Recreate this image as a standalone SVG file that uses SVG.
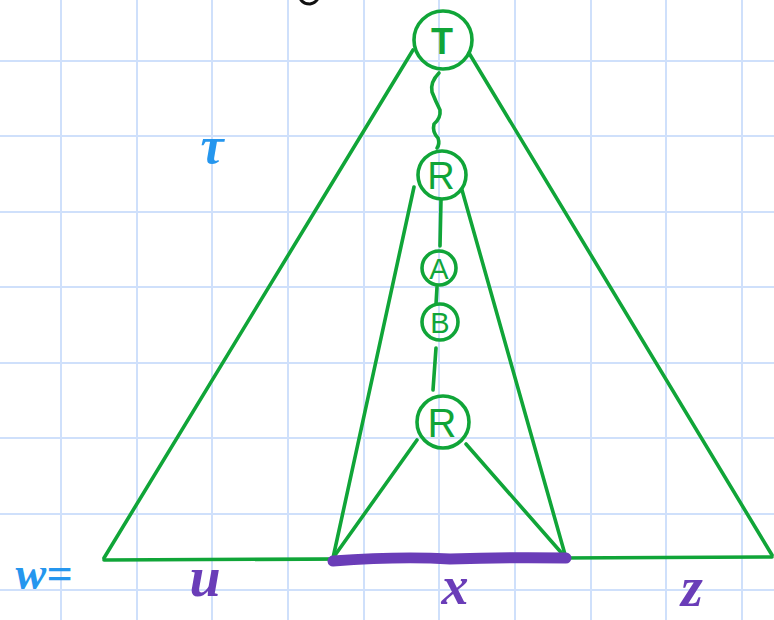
<svg xmlns="http://www.w3.org/2000/svg" width="774" height="620" viewBox="0 0 774 620">
<style>
.grid line{stroke:#cfe0fb;stroke-width:2}
.g{stroke:#10a538;stroke-width:3.6;fill:none;stroke-linecap:round;stroke-linejoin:round}
.nl{font-family:"Liberation Sans",sans-serif;fill:#10a538;text-anchor:middle}
.p{font-family:"Liberation Serif",serif;font-style:italic;font-weight:bold;fill:#6a3db8;text-anchor:middle}
.b{font-family:"Liberation Serif",serif;font-style:italic;font-weight:bold;fill:#2596ee;text-anchor:middle}
</style>
<rect width="774" height="620" fill="#fff"/>
<g class="grid">
<line x1="61" y1="0" x2="61" y2="620"/><line x1="137" y1="0" x2="137" y2="620"/><line x1="212" y1="0" x2="212" y2="620"/><line x1="288" y1="0" x2="288" y2="620"/><line x1="364" y1="0" x2="364" y2="620"/><line x1="439" y1="0" x2="439" y2="620"/><line x1="515" y1="0" x2="515" y2="620"/><line x1="591" y1="0" x2="591" y2="620"/><line x1="666" y1="0" x2="666" y2="620"/><line x1="742" y1="0" x2="742" y2="620"/>
<line x1="0" y1="61" x2="774" y2="61"/><line x1="0" y1="136" x2="774" y2="136"/><line x1="0" y1="212" x2="774" y2="212"/><line x1="0" y1="287" x2="774" y2="287"/><line x1="0" y1="363" x2="774" y2="363"/><line x1="0" y1="438" x2="774" y2="438"/><line x1="0" y1="514" x2="774" y2="514"/><line x1="0" y1="590" x2="774" y2="590"/>
</g>
<path d="M301 0 Q304 4 310 4 Q315 3 317 0" fill="none" stroke="#111" stroke-width="3" stroke-linecap="round"/>
<g id="connectors" class="g">
<path d="M413 50 L104 558"/>
<path d="M469 53 L772 555"/>
<path d="M104 560 L772 557"/>
<path d="M414 187 L333 558"/>
<path d="M462 190 L566 558"/>
<path d="M417 440 L333 558"/>
<path d="M466 444 L566 558"/>
<path d="M439 73 Q430 82 432 92 Q436 102 440 110 Q441 118 434 124 Q432 132 438 138 Q440 144 437 148"/>
<path d="M441 200 L440 246"/>
<path d="M437 287 L436 304"/>
<path d="M436 348 L433 390"/>
</g>
<path d="M333 561 Q400 556 450 559 Q510 557 566 558" fill="none" stroke="#6a3db8" stroke-width="11" stroke-linecap="round"/>
<g id="node-T"><circle class="g" cx="443" cy="40" r="29"/><text class="nl" x="442" y="54" font-size="36" font-weight="bold">T</text></g>
<g id="node-R1"><circle class="g" cx="442" cy="175" r="24"/><text class="nl" x="441" y="189" font-size="38">R</text></g>
<g id="node-A"><circle class="g" cx="439" cy="268" r="17"/><text class="nl" x="439" y="279" font-size="29">A</text></g>
<g id="node-B"><circle class="g" cx="440" cy="322" r="18"/><text class="nl" x="440" y="333" font-size="29">B</text></g>
<g id="node-R2"><circle class="g" cx="443" cy="422" r="26"/><text class="nl" x="442" y="437" font-size="40">R</text></g>
<text class="b" x="212" y="163" font-size="52">τ</text>
<text class="b" x="44" y="589" font-size="46">w=</text>
<text class="p" x="205" y="596" font-size="56">u</text>
<text class="p" x="455" y="604" font-size="54">x</text>
<text class="p" x="692" y="606" font-size="56">z</text>
</svg>
